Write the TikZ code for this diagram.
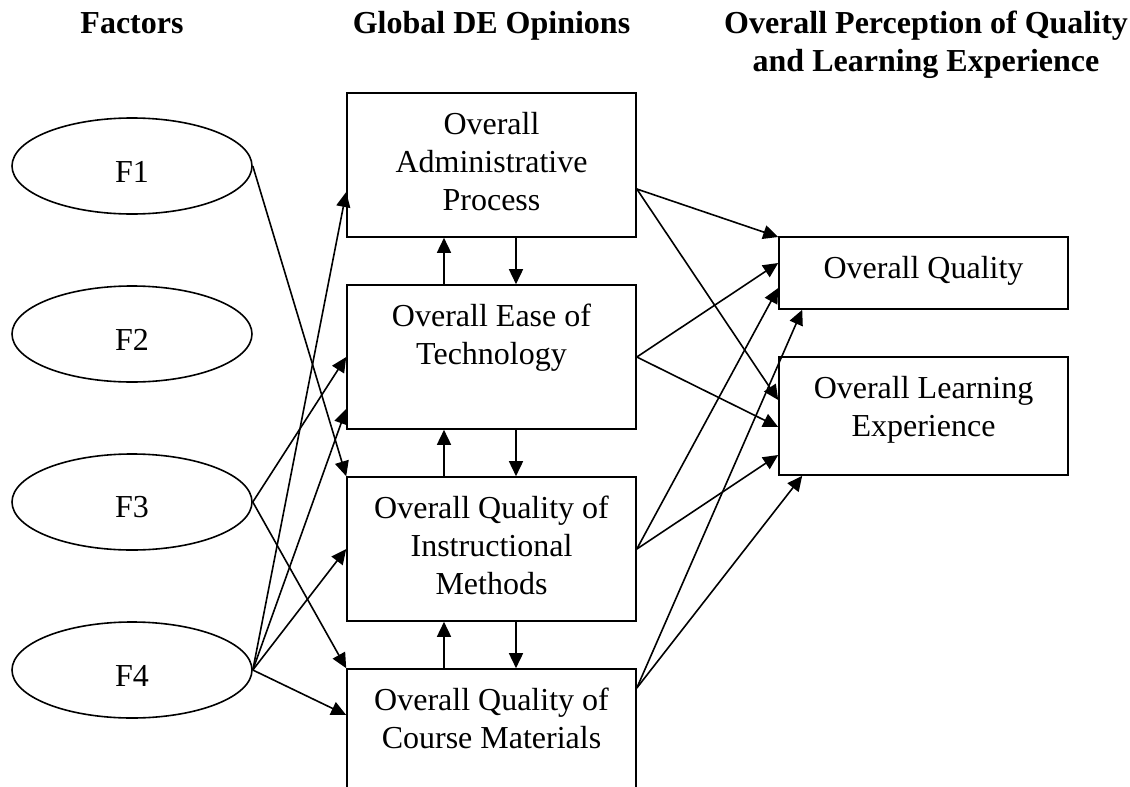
\documentclass[tikz,border=0pt]{standalone}
\usepackage{fontspec}
\setmainfont{Liberation Serif}
\usetikzlibrary{shapes.geometric,arrows.meta}
% text set from the top of a box: #1 inner height, #2 lines
\newcommand{\boxtxt}[2]{\parbox[c][#1][t]{140pt}{\centering\strut #2}}
\begin{document}
\begin{tikzpicture}[x=.5pt,y=-.5pt,>={Triangle[length=7.5pt,width=7pt]}, font=\fontsize{16}{19}\selectfont, line width=.8pt,
	fac/.style={draw,ellipse,minimum width=120pt,minimum height=48pt,inner sep=0pt,text height=16pt},
	opin/.style={draw,rectangle,inner xsep=2.25pt,inner ysep=7.2pt},
	ttl/.style={font=\fontsize{16}{19}\selectfont\bfseries,align=center,anchor=base}]
	\def\hmid{57.6pt} \def\hq{21.6pt} \def\hl{44.6pt} % inner heights
	\clip (0,0) rectangle (1130,787);
	% column heads (base = last line)
	\node[ttl] (hfac) at (132,33) {Factors};
	\node[ttl] (hopin) at (491.5,33) {Global DE Opinions};
	\node[ttl] (hperc) at (926,71) {Overall Perception of Quality\\and Learning Experience};
	% factors
	\foreach \i/\y in {1/166,2/334,3/502,4/670}
		\node[fac] (F\i) at (132,\y) {F\i};
	% global opinions
	\node[opin] (admin) at (491.5,165) {\boxtxt{\hmid}{Overall\\Administrative\\Process}};
	\node[opin] (ease) at (491.5,357) {\boxtxt{\hmid}{Overall Ease of\\Technology}};
	\node[opin] (methods) at (491.5,549) {\boxtxt{\hmid}{Overall Quality of\\Instructional\\Methods}};
	\node[opin] (course) at (491.5,741) {\boxtxt{\hmid}{Overall Quality of\\Course Materials}};
	% overall perception
	\node[opin] (quality) at (923.5,273) {\boxtxt{\hq}{Overall Quality}};
	\node[opin] (learning) at (923.5,416) {\boxtxt{\hl}{Overall Learning\\Experience}};
	% factors -> opinions
	\draw[->] (F1.east) -- (methods.north west);
	\draw[->] (F3.east) -- (ease.west);
	\draw[->] (F3.east) -- (course.north west);
	\foreach \n/\s in {admin/-13.5,ease/-26,methods/0,course/13}
		\draw[->] (F4.east) -- ([yshift=\s pt]\n.west);
	% links between the opinions
	\foreach \u/\d in {admin/ease,ease/methods,methods/course}{
		\draw[->] ([xshift=-23.75pt]\d.north) -- ([xshift=-23.75pt]\u.south);
		\draw[->] ([xshift=12.25pt]\u.south) -- ([xshift=12.25pt]\d.north);
	}
	% opinions -> quality and learning
	\foreach \n/\s/\q/\l in {admin/-12/18/8,ease/0/5/-5.5,methods/0/-7.5/-19.5}{
		\draw[->] ([yshift=\s pt]\n.east) -- ([yshift=\q pt]quality.west);
		\draw[->] ([yshift=\s pt]\n.east) -- ([yshift=\l pt]learning.west);
	}
	\draw[->] ([yshift=26.5pt]course.east) -- ([xshift=12pt]quality.south west);
	\draw[->] ([yshift=26.5pt]course.east) -- ([xshift=12pt]learning.south west);
\end{tikzpicture}
\end{document}
